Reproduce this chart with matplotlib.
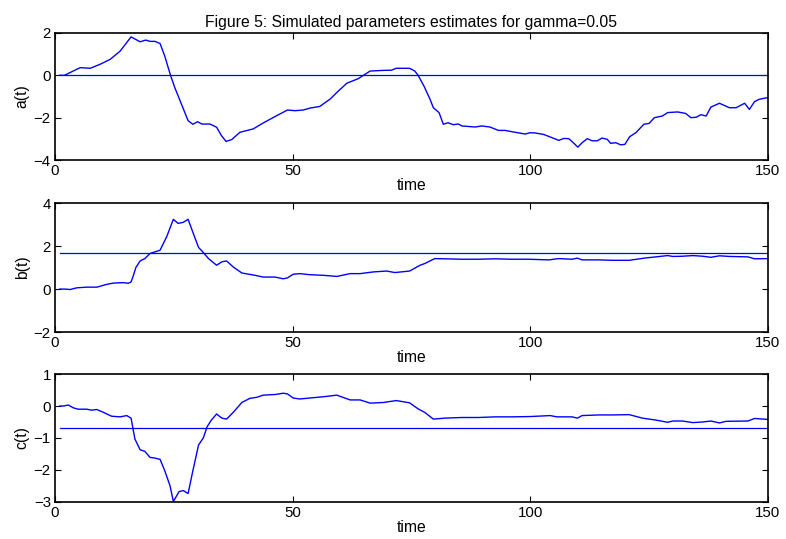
import numpy as np
import matplotlib
matplotlib.use('Agg')
import matplotlib.pyplot as plt

plt.rcParams['font.family'] = ['Liberation Sans', 'DejaVu Sans']

# estimated a(t)
t_a = [1, 2, 5.3, 7.4, 9.5, 11.6, 13.7, 16, 17.9, 19.1, 20, 21, 22.1, 23.1, 24.3, 25.2,
       26.6, 28, 29, 30, 30.9, 32.6, 34, 35, 36, 37.2, 38.9, 41.7, 43.8, 46.6, 48.9,
       50.5, 52.2, 53.6, 55.7, 57.9, 59.3, 61.4, 63.8, 66.3, 69, 70.8, 71.8, 74.6,
       75.7, 76.4, 77.7, 78.9, 79.6, 80.8, 81.7, 82.7, 83.8, 84.9, 85.6, 88.4, 89.8,
       91.5, 93.3, 94.7, 96.1, 98.9, 100, 101, 102.8, 104.2, 106, 107, 108.1, 109.2,
       110, 110.9, 112, 113, 114.1, 115.1, 116.2, 116.9, 118, 119, 119.9, 120.9,
       122.2, 123.9, 125, 126.1, 127.8, 128.9, 131, 132.7, 133.8, 134.9, 135.9, 137,
       138, 139.8, 141.9, 143.3, 145.1, 146.1, 147.2, 148.2, 150]
a_est = [0, 0, 0.36, 0.33, 0.52, 0.75, 1.14, 1.81, 1.58, 1.66, 1.6, 1.6, 1.5, 0.9, 0,
         -0.58, -1.36, -2.14, -2.31, -2.19, -2.3, -2.3, -2.45, -2.84, -3.12, -3.03,
         -2.69, -2.53, -2.25, -1.91, -1.64, -1.67, -1.64, -1.55, -1.47, -1.12, -0.81,
         -0.375, -0.16, 0.2, 0.23, 0.24, 0.33, 0.33, 0.2, 0, -0.54, -1.13, -1.53,
         -1.76, -2.31, -2.24, -2.33, -2.3, -2.39, -2.44, -2.39, -2.44, -2.6, -2.6,
         -2.66, -2.77, -2.71, -2.72, -2.79, -2.91, -3.07, -2.98, -2.99, -3.21, -3.39,
         -3.18, -2.99, -3.09, -3.09, -2.96, -3.02, -3.21, -3.18, -3.28, -3.26, -2.9,
         -2.71, -2.31, -2.27, -2.0, -1.92, -1.76, -1.73, -1.8, -2.0, -1.98, -1.86,
         -1.92, -1.5, -1.32, -1.53, -1.53, -1.32, -1.61, -1.24, -1.13, -1.05]
a_true = 0.0

# estimated b(t)
t_b = [1, 2.1, 3.2, 4.6, 6.7, 8.8, 10.9, 12.3, 14.4, 15.4, 16, 16.5, 17, 17.9, 18.9,
       20, 21, 22.1, 23.5, 24.9, 25.9, 27, 28, 29.1, 30.2, 31.1, 32.3, 34, 35.1, 36.1,
       37.5, 39.3, 42.1, 43.8, 46.3, 48, 48.9, 50.1, 51.5, 53.6, 56.5, 59.3, 62.1,
       64.2, 67, 69.8, 71.5, 74.6, 76.8, 77.8, 79.9, 82, 85.6, 89.1, 92.6, 96.1, 99.6,
       103.9, 106, 108.8, 109.9, 110.9, 114.4, 117.3, 120.8, 124.3, 128.9, 130, 132,
       134.2, 136.3, 138, 139.8, 141.9, 145.8, 147.2, 150]
b_est = [0, 0, -0.02, 0.06, 0.09, 0.09, 0.22, 0.28, 0.3, 0.27, 0.33, 0.64, 1.0, 1.31,
         1.42, 1.66, 1.73, 1.81, 2.44, 3.25, 3.06, 3.11, 3.25, 2.59, 1.94, 1.73, 1.42,
         1.11, 1.27, 1.31, 1.03, 0.75, 0.64, 0.56, 0.56, 0.48, 0.52, 0.69, 0.72, 0.67,
         0.64, 0.59, 0.72, 0.72, 0.8, 0.84, 0.77, 0.84, 1.11, 1.19, 1.42, 1.41, 1.39,
         1.39, 1.41, 1.39, 1.39, 1.36, 1.42, 1.39, 1.44, 1.36, 1.36, 1.34, 1.34, 1.45,
         1.56, 1.52, 1.53, 1.56, 1.53, 1.48, 1.55, 1.52, 1.5, 1.41, 1.42]
b_true = 1.7

# estimated c(t)
t_c = [1, 1.8, 2.8, 3.9, 4.9, 6.7, 7.7, 8.8, 10.2, 11.9, 13.7, 15.1, 16, 16.8, 17.9,
       18.9, 20, 21, 22.1, 23.1, 24.2, 24.9, 26.1, 27, 28, 29, 30.2, 31.2, 32, 32.9,
       34, 35.1, 36.1, 37.5, 39.3, 41, 42.4, 43.8, 46.3, 48, 48.9, 50.1, 51.5, 53.6,
       56.5, 59.3, 62.1, 64.2, 66.3, 69.1, 71.8, 74.6, 76.4, 77.8, 79.6, 82, 85.6,
       89.1, 92.6, 96.1, 100, 104.2, 105.6, 108.8, 109.9, 110.9, 114.4, 117.3, 120.8,
       123.6, 126.4, 128.9, 130, 132, 134.2, 136.3, 138, 139.8, 141.2, 145.8, 147.2,
       150]
c_est = [0, 0, 0.03, -0.06, -0.1, -0.1, -0.13, -0.11, -0.2, -0.32, -0.34, -0.3, -0.38,
         -1.03, -1.37, -1.42, -1.61, -1.63, -1.67, -2.03, -2.5, -2.99, -2.68, -2.65,
         -2.74, -2.03, -1.22, -1.0, -0.65, -0.44, -0.25, -0.38, -0.41, -0.2, 0.11,
         0.24, 0.27, 0.34, 0.36, 0.4, 0.38, 0.25, 0.22, 0.25, 0.29, 0.34, 0.19, 0.19,
         0.09, 0.11, 0.17, 0.1, -0.09, -0.2, -0.41, -0.38, -0.36, -0.36, -0.34, -0.34,
         -0.33, -0.3, -0.34, -0.34, -0.38, -0.3, -0.28, -0.28, -0.27, -0.38, -0.44,
         -0.51, -0.47, -0.47, -0.52, -0.5, -0.47, -0.53, -0.48, -0.47, -0.39, -0.42]
c_true = -0.7

panels = [
    (t_a, a_est, a_true, 'a(t)', (-4, 2), [-4, -2, 0, 2], [0.070, 0.703, 0.907, 0.236]),
    (t_b, b_est, b_true, 'b(t)', (-2, 4), [-2, 0, 2, 4], [0.070, 0.384, 0.907, 0.239]),
    (t_c, c_est, c_true, 'c(t)', (-3, 1), [-3, -2, -1, 0, 1], [0.070, 0.069, 0.907, 0.237]),
]

fig = plt.figure(figsize=(7.86, 5.39), dpi=100)
for i, (t, est, true, name, ylim, yt, pos) in enumerate(panels):
    ax = fig.add_axes(pos)
    ax.plot(t, est, color='#0000ff', lw=1.0)
    ax.plot([1, 150], [true, true], color='#0000ff', lw=0.9)
    ax.set_xlim(0, 150)
    ax.set_ylim(*ylim)
    ax.set_xticks([0, 50, 100, 150])
    ax.set_yticks(yt)
    ax.tick_params(direction='in', top=True, right=True, length=4, width=0.8,
                   labelsize=10.8, pad=3)
    for s in ax.spines.values():
        s.set_linewidth(1.2)
    ax.set_xlabel('time', fontsize=11.3, labelpad=0)
    ax.set_ylabel(name, fontsize=11.3, labelpad=3)
    if i == 0:
        ax.set_title('Figure 5: Simulated parameters estimates for gamma=0.05',
                     fontsize=11.3, pad=4)

fig.savefig('out.png', dpi=100)
